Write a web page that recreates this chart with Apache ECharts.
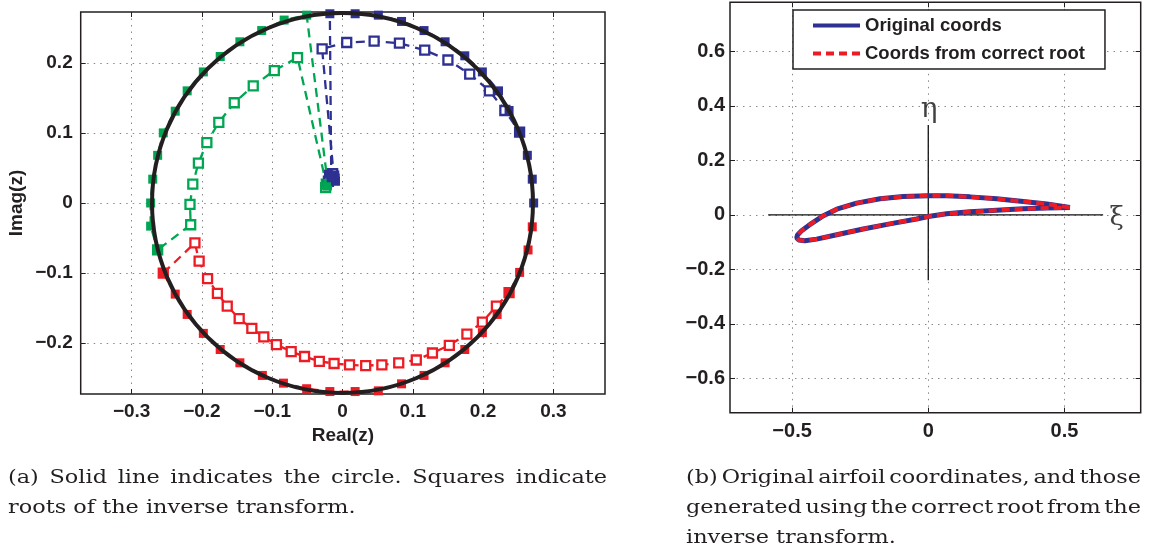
<!DOCTYPE html>
<html><head><meta charset="utf-8">
<script src="https://cdn.jsdelivr.net/npm/echarts@6/dist/echarts.min.js"></script>
<style>html,body{margin:0;padding:0;background:#fff}#c{width:1149px;height:555px}</style>
</head><body><div id="c"></div>
<script>
// ---------- tick labels ----------
const leftXTicks = [-0.3, -0.2, -0.1, 0, 0.1, 0.2, 0.3];
const leftYTicks = [-0.2, -0.1, 0, 0.1, 0.2];
const rightXTicks = [-0.5, 0, 0.5];
const rightYTicks = [-0.6, -0.4, -0.2, 0, 0.2, 0.4, 0.6];

// ---------- panel (a): circle and roots ----------
const circleData = [[0, 0, 0.271]]; // centre x, centre y, radius

const greenOnCircle = [[-0.022,0.024],[-0.021,0.028],[-0.051,0.268],[-0.083,0.261],[-0.115,0.246],[-0.146,0.230],[-0.174,0.209],
  [-0.198,0.187],[-0.221,0.160],[-0.238,0.131],[-0.255,0.100],[-0.263,0.068],[-0.270,0.034],[-0.273,0.000],
  [-0.273,-0.033],[-0.263,-0.067]];
const greenOther = [[-0.024,0.022],[-0.023,0.027],[-0.064,0.2075],[-0.097,0.189],[-0.127,0.167],[-0.154,0.143],[-0.176,0.115],
  [-0.193,0.086],[-0.205,0.057],[-0.213,0.027],[-0.217,-0.002],[-0.216,-0.031],[-0.263,-0.067]];

const blueOnCircle = [[-0.010,0.031],[-0.011,0.040],[-0.020,0.041],[-0.016,0.036],[-0.018,0.270],[0.018,0.270],[0.051,0.268],[0.084,0.259],
  [0.116,0.246],[0.146,0.230],[0.174,0.210],[0.199,0.187],[0.222,0.160],[0.237,0.132],[0.252,0.101],
  [0.263,0.068],[0.270,0.034],[0.272,0.000]];
const blueOther = [[-0.020,0.031],[-0.014,0.042],[-0.012,0.034],[-0.029,0.220],[0.006,0.229],[0.045,0.231],[0.081,0.228],[0.117,0.218],
  [0.150,0.204],[0.181,0.184],[0.209,0.160],[0.231,0.132],[0.252,0.101]];

const redOnCircle = [[-0.255,-0.100],[-0.238,-0.130],[-0.221,-0.159],[-0.198,-0.186],[-0.174,-0.209],[-0.146,-0.228],
  [-0.114,-0.246],[-0.084,-0.257],[-0.051,-0.265],[-0.018,-0.269],[0.018,-0.269],[0.051,-0.268],[0.084,-0.258],
  [0.116,-0.246],[0.146,-0.228],[0.174,-0.209],[0.199,-0.185],[0.220,-0.159],[0.237,-0.128],[0.252,-0.099],
  [0.264,-0.067],[0.270,-0.034]];
const redOther = [[-0.255,-0.100],[-0.210,-0.057],[-0.204,-0.083],[-0.192,-0.108],[-0.178,-0.129],[-0.164,-0.147],
  [-0.147,-0.165],[-0.129,-0.179],[-0.112,-0.191],[-0.094,-0.202],[-0.073,-0.212],[-0.054,-0.219],[-0.033,-0.226],
  [-0.012,-0.229],[0.010,-0.231],[0.033,-0.232],[0.056,-0.231],[0.080,-0.228],[0.105,-0.224],[0.128,-0.214],
  [0.152,-0.203],[0.177,-0.187],[0.199,-0.170],[0.219,-0.147],[0.237,-0.128]];

// ---------- panel (b): airfoil ----------
const airfoilOriginal = [[0.520,0.027],[0.435,0.040],[0.349,0.049],[0.251,0.059],[0.153,0.066],[0.067,0.070],[0,0.070],
  [-0.092,0.067],[-0.177,0.059],[-0.263,0.043],[-0.336,0.021],[-0.385,-0.003],[-0.428,-0.031],[-0.465,-0.058],
  [-0.480,-0.074],[-0.483,-0.084],[-0.476,-0.092],[-0.453,-0.095],[-0.410,-0.089],[-0.336,-0.073],[-0.239,-0.052],
  [-0.141,-0.033],[-0.043,-0.015],[0,-0.006],[0.067,0.004],[0.153,0.011],[0.251,0.017],[0.349,0.022],[0.435,0.025],
  [0.520,0.027]];
const airfoilFromRoot = airfoilOriginal.map(p => p.slice());
const xiAxisLine = [[-0.588,0],[0.642,0]];
const etaAxisLine = [[0,-0.24],[0,0.33]];
const xiLabelPos = [[0.692,-0.012]];
const etaLabelPos = [[0.003,0.385]];

// ---------- captions ----------
const captionA = ['(a) Solid line indicates the circle.  Squares indicate', 'roots of the inverse transform.'];
const captionB = ['(b) Original airfoil coordinates, and those', 'generated using the correct root from the', 'inverse transform.'];

const GREEN = '#00a651', BLUE = '#2e3192', RED = '#ed1c24', INK = '#231f20';
const LABEL_FONT = 'Liberation Sans';
const CAP_FONT = '18.5px "DejaVu Serif"';
const CAP_SX = 1.21;

function fmt(v) { return v === 0 ? '0' : (v < 0 ? '\u2212' : '') + Math.abs(v); }

function valueAxis(gi, pos, min, max, ticks, showLabel, extra) {
  return Object.assign({
    type: 'value', gridIndex: gi, position: pos, min: min, max: max,
    axisLine: { show: false, onZero: false },
    axisTick: { show: true, inside: true, length: 5, customValues: ticks, lineStyle: { color: INK, width: 1 } },
    axisLabel: { show: showLabel, customValues: ticks, formatter: fmt, margin: 8,
      fontFamily: LABEL_FONT, fontWeight: 'bold', fontSize: 19, color: INK },
    splitLine: { show: showLabel, lineStyle: { color: '#8a8a8a', width: 1, type: [1.5, 5] } }
  }, extra || {});
}

function rootSeries(name, data, color, open, z) {
  return {
    name: name, type: 'line', xAxisIndex: 0, yAxisIndex: 0, data: data, z: z,
    symbol: 'rect', symbolSize: 9, showSymbol: true, showAllSymbol: true,
    lineStyle: { color: color, width: 2.3, type: [9, 6] },
    itemStyle: open ? { color: '#fff', borderColor: color, borderWidth: 2.3 } : { color: color, borderColor: color, borderWidth: 0 },
    emphasis: { disabled: true }, animation: false
  };
}

function captionGraphics(lines, left, right, yFirst, lineH, justifyCount) {
  const ctx = document.createElement('canvas').getContext('2d');
  ctx.font = CAP_FONT;
  const out = [];
  lines.forEach((line, i) => {
    const y = yFirst + i * lineH;
    if (i < justifyCount) {
      const words = line.split(/\s+/);
      const ws = words.map(w => ctx.measureText(w).width * CAP_SX);
      const total = ws.reduce((a, b) => a + b, 0);
      const gap = (right - left - total) / (words.length - 1);
      let x = left;
      words.forEach((w, k) => {
        out.push({ type: 'text', x: x, y: y, scaleX: CAP_SX, silent: true,
          style: { text: w, font: CAP_FONT, fill: INK, verticalAlign: 'middle', align: 'left' } });
        x += ws[k] + gap;
      });
    } else {
      out.push({ type: 'text', x: left, y: y, scaleX: CAP_SX, silent: true,
        style: { text: line, font: CAP_FONT, fill: INK, verticalAlign: 'middle', align: 'left' } });
    }
  });
  return out;
}

const chart = echarts.init(document.getElementById('c'), null, { renderer: 'canvas' });
chart.setOption({
  animation: false,
  backgroundColor: '#fff',
  grid: [
    { left: 80.7, top: 12, width: 524.3, height: 382, show: true, borderColor: INK, borderWidth: 1.5 },
    { left: 730, top: 2.3, width: 410.7, height: 410.4, show: true, borderColor: INK, borderWidth: 1.5 }
  ],
  xAxis: [
    valueAxis(0, 'bottom', -0.3725, 0.3735, leftXTicks, true,
      { name: 'Real(z)', nameLocation: 'middle', nameGap: 29,
        nameTextStyle: { fontFamily: LABEL_FONT, fontWeight: 'bold', fontSize: 19, color: INK } }),
    valueAxis(0, 'top', -0.3725, 0.3735, leftXTicks, false),
    valueAxis(1, 'bottom', -0.728, 0.78, rightXTicks, true,
      { axisLabel: { customValues: rightXTicks, formatter: fmt, margin: 9,
        fontFamily: LABEL_FONT, fontWeight: 'bold', fontSize: 20, color: INK } }),
    valueAxis(1, 'top', -0.728, 0.78, rightXTicks, false)
  ],
  yAxis: [
    valueAxis(0, 'left', -0.2725, 0.2725, leftYTicks, true,
      { name: 'Imag(z)', nameLocation: 'middle', nameGap: 54,
        nameTextStyle: { fontFamily: LABEL_FONT, fontWeight: 'bold', fontSize: 19, color: INK } }),
    valueAxis(0, 'right', -0.2725, 0.2725, leftYTicks, false),
    valueAxis(1, 'left', -0.726, 0.78, rightYTicks, true,
      { axisLabel: { customValues: rightYTicks, formatter: fmt, margin: 5,
        fontFamily: LABEL_FONT, fontWeight: 'bold', fontSize: 20, color: INK } }),
    valueAxis(1, 'right', -0.726, 0.78, rightYTicks, false)
  ],
  legend: {
    data: ['Original coords', 'Coords from correct root'],
    orient: 'vertical', left: 793, top: 10,
    padding: [6, 20, 6, 18], itemWidth: 47, itemHeight: 14, itemGap: 9,
    borderColor: INK, borderWidth: 1.5, backgroundColor: '#fff',
    selectedMode: false,
    itemStyle: { opacity: 0 },
    lineStyle: { width: 4 },
    textStyle: { fontFamily: LABEL_FONT, fontWeight: 'bold', fontSize: 18.5, color: INK }
  },
  series: [
    rootSeries('greenOther', greenOther, GREEN, true, 2),
    rootSeries('redOther', redOther, RED, true, 2),
    rootSeries('blueOther', blueOther, BLUE, true, 2),
    rootSeries('greenOnCircle', greenOnCircle, GREEN, false, 3),
    rootSeries('redOnCircle', redOnCircle, RED, false, 3),
    rootSeries('blueOnCircle', blueOnCircle, BLUE, false, 3),
    {
      name: 'circle', type: 'custom', xAxisIndex: 0, yAxisIndex: 0, data: circleData, z: 5, silent: true,
      renderItem: function (params, api) {
        const c = api.coord([api.value(0), api.value(1)]);
        const s = api.size([api.value(2), api.value(2)]);
        return { type: 'ellipse', shape: { cx: c[0], cy: c[1], rx: s[0], ry: s[1] },
          style: { fill: 'none', stroke: INK, lineWidth: 4 } };
      }
    },
    {
      name: 'xiAxis', type: 'line', xAxisIndex: 2, yAxisIndex: 2, data: xiAxisLine, symbol: 'none',
      lineStyle: { color: '#111', width: 1.3 }, z: 2, silent: true
    },
    {
      name: 'etaAxis', type: 'line', xAxisIndex: 2, yAxisIndex: 2, data: etaAxisLine, symbol: 'none',
      lineStyle: { color: '#111', width: 1.3 }, z: 2, silent: true
    },
    {
      name: 'Original coords', type: 'line', xAxisIndex: 2, yAxisIndex: 2, data: airfoilOriginal, symbol: 'none',
      lineStyle: { color: BLUE, width: 5 }, itemStyle: { color: BLUE }, z: 3
    },
    {
      name: 'Coords from correct root', type: 'line', xAxisIndex: 2, yAxisIndex: 2, data: airfoilFromRoot, symbol: 'none',
      lineStyle: { color: RED, width: 4, type: [8, 5] }, itemStyle: { color: RED }, z: 4
    },
    {
      name: 'xiLabel', type: 'scatter', xAxisIndex: 2, yAxisIndex: 2, data: xiLabelPos, symbolSize: 0, silent: true,
      label: { show: true, position: 'inside', formatter: '\u03be', fontFamily: 'DejaVu Serif', fontSize: 26, color: '#111' }
    },
    {
      name: 'etaLabel', type: 'scatter', xAxisIndex: 2, yAxisIndex: 2, data: etaLabelPos, symbolSize: 0, silent: true,
      label: { show: true, position: 'inside', formatter: '\u03b7', fontFamily: 'DejaVu Serif', fontSize: 28, color: '#111' }
    }
  ],
  graphic: captionGraphics(captionA, 8, 607, 478, 30, 1).concat(captionGraphics(captionB, 686, 1141, 478, 30, 2))
});
</script></body></html>
